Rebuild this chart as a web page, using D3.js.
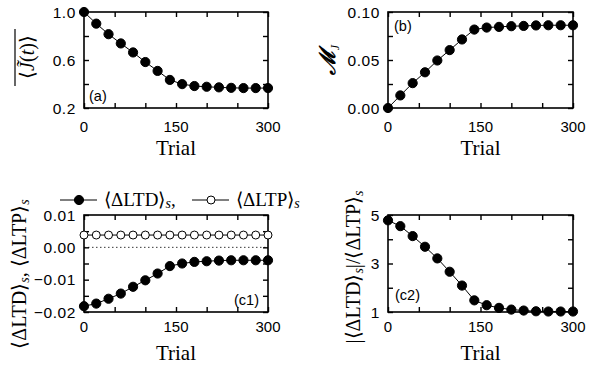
<!DOCTYPE html>
<html><head><meta charset="utf-8">
<script src="https://cdn.jsdelivr.net/npm/d3@7/dist/d3.min.js"></script>
<style>body{margin:0;background:#fff}svg{display:block}</style>
</head><body>
<script>
const trials = [0,20,40,60,80,100,120,140,160,180,200,220,240,260,280,300];
const meanJ = [1.0,0.903,0.815,0.738,0.663,0.583,0.509,0.434,0.399,0.383,0.377,0.372,0.368,0.366,0.366,0.366];
const MJ = [0.0,0.0131,0.0259,0.0372,0.0495,0.0603,0.0714,0.0817,0.0838,0.0845,0.0852,0.0855,0.0860,0.0862,0.0862,0.0862];
const LTD = [-0.0182,-0.0174,-0.0159,-0.0143,-0.0122,-0.0102,-0.0081,-0.0058,-0.0050,-0.0045,-0.0043,-0.0041,-0.0040,-0.0040,-0.0040,-0.0040];
const LTP = [0.0038,0.0038,0.0038,0.0038,0.0038,0.0038,0.0038,0.0038,0.0038,0.0038,0.0038,0.0038,0.0038,0.0038,0.0038,0.0038];
const ratio = [4.78,4.54,4.13,3.69,3.21,2.66,2.09,1.48,1.28,1.17,1.10,1.06,1.03,1.02,1.02,1.02];
const xTickLabels = [0,150,300];
const yTicksA = [0.2,0.4,0.6,0.8,1.0], yLabA = [0.2,0.6,1.0];
const yTicksB = [0,0.025,0.05,0.075,0.10], yLabB = [0,0.05,0.10];
const yTicksC1 = [-0.02,-0.015,-0.01,-0.005,0,0.005,0.01], yLabC1 = [-0.02,-0.01,0,0.01];
const yTicksC2 = [1,2,3,4,5], yLabC2 = [1,3,5];

const W=604,H=369;
const svg=d3.select("body").append("svg").attr("width",W).attr("height",H);
const SANS="'Liberation Sans', Arial, sans-serif", SERIF="'Liberation Serif', 'Times New Roman', serif";

function panel(o){
  const x=d3.scaleLinear().domain([0,300]).range([o.l,o.r]);
  const y=d3.scaleLinear().domain(o.yd).range([o.b,o.t]);
  const g=svg.append("g");
  const tl=5;
  const xt=d3.range(0,301,50);
  g.append("rect").attr("x",o.l).attr("y",o.t).attr("width",o.r-o.l).attr("height",o.b-o.t)
    .attr("fill","none").attr("stroke","#000").attr("stroke-width",1.6);
  const ax=d3.axisBottom(x).tickValues(xt).tickSize(tl).tickFormat("");
  const gb=g.append("g").attr("transform",`translate(0,${o.b-tl})`).call(ax);
  gb.select(".domain").remove();
  const gt=g.append("g").attr("transform",`translate(0,${o.t})`).call(ax);
  gt.select(".domain").remove();
  const ay=d3.axisRight(y).tickValues(o.yt).tickSize(tl).tickFormat("");
  const gl=g.append("g").attr("transform",`translate(${o.l},0)`).call(ay); gl.select(".domain").remove();
  const gr=g.append("g").attr("transform",`translate(${o.r-tl},0)`).call(ay); gr.select(".domain").remove();
  g.selectAll(".tick line").attr("stroke-width",1.4);
  g.selectAll(".xl").data(xTickLabels).enter().append("text")
    .attr("x",d=>x(d)).attr("y",o.b+o.xlo).attr("text-anchor","middle")
    .style("font-family",SANS).attr("font-size",15).text(d=>d);
  g.selectAll(".yl").data(o.yl).enter().append("text")
    .attr("x",o.l-8).attr("y",d=>y(d)+5.5).attr("text-anchor","end")
    .style("font-family",SANS).attr("font-size",15.5).attr("letter-spacing",0.6).text(o.yf);
  g.append("text").attr("x",(o.l+o.r)/2).attr("y",o.b+o.tro).attr("text-anchor","middle")
    .style("font-family",SERIF).attr("font-size",21).text("Trial");
  g.append("text").attr("x",o.px).attr("y",o.py).style("font-family",SANS).attr("font-size",14.5).text(o.pl);
  return {x,y,g};
}
function series(p,vals,filled){
  const line=d3.line().x((d,i)=>p.x(trials[i])).y(d=>p.y(d));
  p.g.append("path").datum(vals).attr("d",line).attr("fill","none").attr("stroke","#000").attr("stroke-width",1);
  p.g.selectAll(null).data(vals).enter().append("circle")
    .attr("cx",(d,i)=>p.x(trials[i])).attr("cy",d=>p.y(d))
    .attr("r",filled?4.6:4).attr("fill",filled?"#000":"#fff").attr("stroke","#000").attr("stroke-width",1);
}

const pa=panel({l:84,r:268,t:12,b:108,yd:[0.2,1.0],yt:yTicksA,yl:yLabA,yf:d3.format(".1f"),xlo:24,tro:47,px:89,py:101,pl:"(a)"});
series(pa,meanJ,true);
const pb=panel({l:388,r:573,t:12,b:108,yd:[0,0.10],yt:yTicksB,yl:yLabB,yf:d3.format(".2f"),xlo:24,tro:47,px:394,py:31,pl:"(b)"});
series(pb,MJ,true);
const pc1=panel({l:84,r:268,t:215,b:312,yd:[-0.02,0.01],yt:yTicksC1,yl:yLabC1,yf:d=>d===0?"0.00":d3.format(".2f")(d),xlo:20,tro:48,px:234,py:305,pl:"(c1)"});
pc1.g.append("line").attr("x1",84).attr("x2",268).attr("y1",pc1.y(0)).attr("y2",pc1.y(0))
  .attr("stroke","#000").attr("stroke-width",0.8).attr("stroke-dasharray","1.5,2.5");
series(pc1,LTP,false);
series(pc1,LTD,true);
const pc2=panel({l:388,r:573,t:215,b:312,yd:[1,5],yt:yTicksC2,yl:yLabC2,yf:d3.format("d"),xlo:20,tro:48,px:395,py:300,pl:"(c2)"});
series(pc2,ratio,true);

function legItem(x0,filled,label){
  svg.append("line").attr("x1",x0).attr("x2",x0+37).attr("y1",200).attr("y2",200).attr("stroke","#000").attr("stroke-width",1);
  svg.append("circle").attr("cx",x0+19).attr("cy",200).attr("r",filled?4.6:4).attr("fill",filled?"#000":"#fff").attr("stroke","#000");
  const t=svg.append("text").attr("x",x0+44).attr("y",206).style("font-family",SERIF).attr("font-size",19);
  t.append("tspan").text(label);
  t.append("tspan").attr("font-style","italic").attr("font-size",14).attr("dy",2).text("s");
  return t;
}
const l1=legItem(60,true,"\u27E8\u0394LTD\u27E9");
l1.append("tspan").attr("dy",-2).text(",");
legItem(192,false,"\u27E8\u0394LTP\u27E9");

function rotText(cx,cy){
  return svg.append("text").attr("transform",`translate(${cx},${cy}) rotate(-90)`).attr("text-anchor","middle")
    .style("font-family",SERIF).attr("font-size",20);
}
const ta=rotText(34,57);
ta.append("tspan").text("\u27E8");
ta.append("tspan").attr("font-style","italic").text("J\u0303");
ta.append("tspan").text("(");
ta.append("tspan").attr("font-style","italic").text("t");
ta.append("tspan").text(")\u27E9");
svg.append("line").attr("x1",15).attr("x2",15).attr("y1",29).attr("y2",86).attr("stroke","#000").attr("stroke-width",1.2);

const tb=svg.append("text").attr("transform",`translate(335,60) rotate(-90)`).attr("text-anchor","middle")
  .style("font-family",SERIF).attr("font-size",22).attr("font-weight","bold").attr("font-style","italic");
tb.append("tspan").text("\u2133");
tb.append("tspan").attr("font-size",12).attr("dy",4).attr("font-weight","normal").text("J");

const tc1=rotText(26,274);
tc1.append("tspan").text("\u27E8\u0394LTD\u27E9");
tc1.append("tspan").attr("font-style","italic").attr("font-size",14).attr("dy",3).text("s");
tc1.append("tspan").attr("dy",-3).text(", \u27E8\u0394LTP\u27E9");
tc1.append("tspan").attr("font-style","italic").attr("font-size",14).attr("dy",3).text("s");

const tc2=rotText(360,267);
tc2.append("tspan").text("|\u27E8\u0394LTD\u27E9");
tc2.append("tspan").attr("font-style","italic").attr("font-size",14).attr("dy",3).text("s");
tc2.append("tspan").attr("dy",-3).text("|/\u27E8\u0394LTP\u27E9");
tc2.append("tspan").attr("font-style","italic").attr("font-size",14).attr("dy",3).text("s");
</script>
</body></html>
